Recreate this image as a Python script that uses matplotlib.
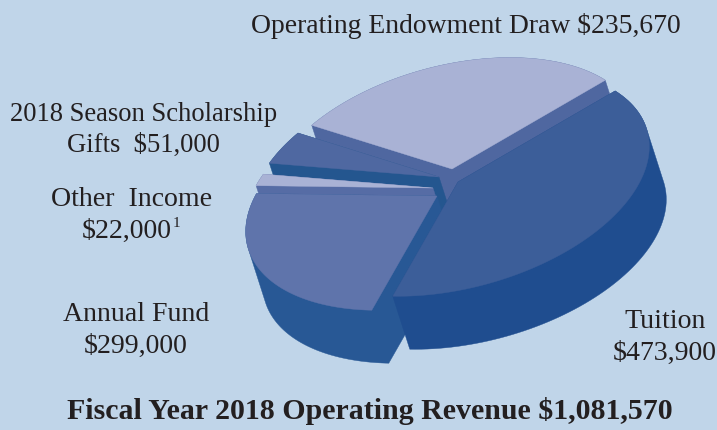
"""
Fiscal year 2018 operating revenue, drawn as an extruded exploded pie.
"""

import numpy as np

import matplotlib
matplotlib.use('Agg')
import matplotlib.pyplot as plt
from matplotlib.patches import Polygon

# data, clockwise from the tuition slice
categories = ['Tuition', 'Annual Fund', 'Other Income', 'Scholarship Gifts', 'Endowment Draw']
revenue = [473900, 299000, 22000, 51000, 235670]
total_label = 'Fiscal Year 2018 Operating Revenue $1,081,570'

# the artwork is not true to scale, far slices are stretched by the view
VIEW_STRETCH = [0.913, 0.894, 0.80, 0.94, 1.32]
START_ANGLE = -26.5

# pie geometry in pixels
SEMI_MAJOR, SEMI_MINOR = 196, 106
TILT = np.radians(15)
DEPTH = np.array([17, 53])
E1 = np.array([np.cos(TILT), -np.sin(TILT)])
E2 = np.array([np.sin(TILT), np.cos(TILT)])

# per slice: apex, radius factor, colours
APEX = [(458, 183), (437, 197), (433, 189), (439, 178), (452, 170)]
RADIUS = [1.0, 1.0, 0.98, 0.98, 0.975]
TOP_COLORS = ['#3c5e99', '#5f74ab', '#a9b2d5', '#4f68a1', '#a9b2d5']
SIDE_COLORS = ['#1f4d8f', '#285895', '#566ca5', '#24568f', '#4f67a0']
DRAW_ORDER = [4, 3, 2, 1, 0]

BG = '#c0d5e9'
INK = '#231f20'


def slice_outline(apex, t0, t1, radius):
    """Top face of one slice as a polygon: apex and then the outer arc."""
    t = np.radians(np.linspace(t0, t1, 80))
    arc = (np.outer(SEMI_MAJOR * radius * np.cos(t), E1)
           + np.outer(SEMI_MINOR * radius * np.sin(t), E2))
    return np.vstack([[0, 0], arc]) + np.array(apex)


def convex_hull(points):
    """Monotone chain, slices are under 180 degrees so the solid is convex."""
    pts = sorted(map(tuple, points))

    def half(seq):
        out = []
        for p in seq:
            while len(out) > 1 and ((out[-1][0] - out[-2][0]) * (p[1] - out[-2][1])
                                    - (out[-1][1] - out[-2][1]) * (p[0] - out[-2][0])) <= 0:
                out.pop()
            out.append(p)
        return out[:-1]

    return np.array(half(pts) + half(pts[::-1]))


def draw_slice(ax, outline, top_color, side_color):
    solid = convex_hull(np.vstack([outline, outline + DEPTH]))
    ax.add_patch(Polygon(solid, closed=True, facecolor=side_color,
                         edgecolor=side_color, linewidth=0.3))
    ax.add_patch(Polygon(outline, closed=True, facecolor=top_color,
                         edgecolor=top_color, linewidth=0.3))


fig = plt.figure(figsize=(7.17, 4.31), dpi=100, facecolor=BG)
ax = fig.add_axes([0, 0, 1, 1])
ax.set_xlim(0, 717)
ax.set_ylim(431, 0)
ax.axis('off')

sweep = np.array(revenue, dtype=float) * np.array(VIEW_STRETCH)
sweep = sweep / sweep.sum() * 360
edges = START_ANGLE + np.concatenate([[0], np.cumsum(sweep)])

for i in DRAW_ORDER:
    outline = slice_outline(APEX[i], edges[i], edges[i + 1], RADIUS[i])
    draw_slice(ax, outline, TOP_COLORS[i], SIDE_COLORS[i])

text_style = dict(family='Liberation Serif', color=INK, ha='center', va='center',
                  fontsize=20.1, parse_math=False, linespacing=1.36)
ax.text(465.5, 26, 'Operating Endowment Draw $235,670', **{**text_style, 'fontsize': 19.9})
ax.text(143.5, 130, '2018 Season Scholarship\nGifts  $51,000',
        **{**text_style, 'fontsize': 19.2, 'linespacing': 1.3})
ax.text(132, 200, 'Other  Income', **text_style)
ax.text(127, 231, '$22,000', **text_style)
ax.text(176, 224, '1', **{**text_style, 'fontsize': 11})
ax.text(136, 330, 'Annual Fund\n$299,000', **text_style)
ax.text(665, 337, 'Tuition\n$473,900', **text_style)
ax.text(370, 411, total_label, family='Liberation Serif', color=INK, ha='center',
        va='center', fontsize=21.5, fontweight='bold', parse_math=False)

fig.savefig('out.png', dpi=100, facecolor=BG)
plt.close(fig)
